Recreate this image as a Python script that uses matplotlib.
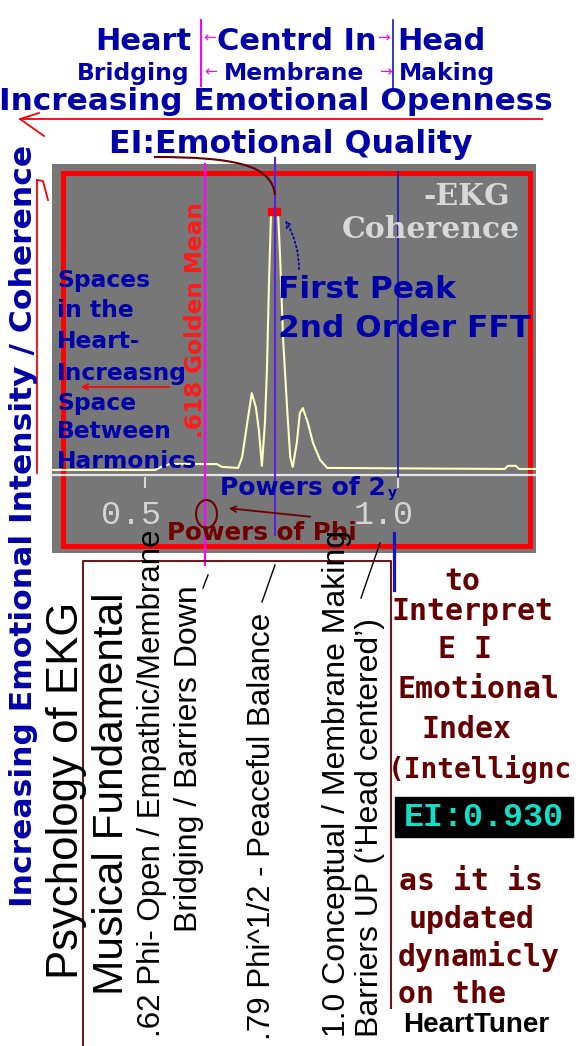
import matplotlib
matplotlib.use("Agg")
import matplotlib.pyplot as plt
from matplotlib.patches import Rectangle, Ellipse, PathPatch
from matplotlib.path import Path

# ---------------- data ----------------
spec_x = [0.318, 0.520, 0.530, 0.549, 0.642, 0.652, 0.684, 0.692, 0.702, 0.711,
          0.719, 0.725, 0.731, 0.737, 0.741, 0.745, 0.749, 0.763, 0.767, 0.773,
          0.781, 0.787, 0.792, 0.800, 0.806, 0.812, 0.822, 0.832, 0.846, 0.860,
          1.211, 1.217, 1.233, 1.239, 1.273]
spec_y = [0.000, 0.000, 0.010, 0.023, 0.023, 0.012, 0.008, 0.050, 0.182, 0.298,
          0.244, 0.155, 0.016, 0.182, 0.388, 0.725, 0.996, 0.996, 0.826, 0.504,
          0.233, 0.050, 0.012, 0.105, 0.221, 0.240, 0.182, 0.105, 0.039, 0.008,
          0.004, 0.016, 0.016, 0.004, 0.004]
tick_values = [0.5, 1.0]
tick_labels = ["0.5", "1.0"]
golden_mean = 0.618
phi_half = 0.757
unity = 1.0
peak_x = 0.755
peak_y = 1.0
ei_value = 0.930

spaces_lines = ["Spaces", "in the", "Heart-", "Increasng", "Space", "Between", "Harmonics"]
right_lines = ["to", "Interpret", "E I", "Emotional", "Index"]
right_lines2 = ["as it is", "updated", "dynamicly", "on the"]

# ---------------- styles ----------------
W, H = 576, 1046
BLUE = "#0000aa"
MAG = "#ff00ff"
DRED = "#660000"
RED = "#ff0000"
DV = "DejaVu Sans"
DVM = "DejaVu Sans Mono"
DVS = "DejaVu Serif"
LS = "Liberation Sans"
LM = "Liberation Mono"

fig = plt.figure(figsize=(W / 100, H / 100), dpi=100)
fig.patch.set_facecolor("white")


def rect(x0, y0, x1, y1):
    return [x0 / W, 1 - y1 / H, (x1 - x0) / W, (y1 - y0) / H]


# ---------------- main panel ----------------
ax = fig.add_axes(rect(52, 164, 536, 553), zorder=1)
ax.set_facecolor("#777777")
ax.set_xlim(0.3162, 1.2727)
ax.set_ylim(-0.3217, 1.186)
ax.set_xticks([])
ax.set_yticks([])
for s in ax.spines.values():
    s.set_visible(False)

ax.add_patch(Rectangle((0.0217, 0.018), 0.9649, 0.9601, transform=ax.transAxes,
                       fill=False, ec=RED, lw=3.6, zorder=2, clip_on=False))
ax.axhline(-0.0194, color="#e6e6e6", lw=1.6, zorder=3)
ax.plot(spec_x, spec_y, color="#ffffc0", lw=1.5, zorder=4)
ax.vlines(tick_values, -0.070, -0.027, color="#d8d8d8", lw=1.5, zorder=3)
for t, lab in zip(tick_values, tick_labels):
    ax.text(t - 0.028, -0.178, lab, fontsize=24, family=LM, color="#d4d4d4",
            ha="center", va="center", zorder=5)
ax.add_patch(Rectangle((peak_x - 0.012, peak_y - 0.012), 0.024, 0.028,
                       color=RED, zorder=6))

ax.axvline(golden_mean, ymin=-0.031, ymax=1.0, color=MAG, lw=1.5, clip_on=False, zorder=6)
ax.axvline(phi_half, ymin=0.046, ymax=1.015, color="#5c1ee0", lw=1.5, clip_on=False, zorder=6)
ax.axvline(unity, ymin=0.195, ymax=0.979, color="#1414c8", lw=1.2, clip_on=False, zorder=6)
ax.axvline(unity - 0.007, ymin=-0.095, ymax=0.051, color="#1414c8", lw=2.3, clip_on=False, zorder=6)

# ---------------- overlay (pixel coordinates) ----------------
ov = fig.add_axes([0, 0, 1, 1], zorder=5)
ov.set_xlim(0, W)
ov.set_ylim(H, 0)
ov.axis("off")


def txt(x, y, s, size, color, family, weight="normal", ha="left", va="baseline", rot=0):
    ov.text(x, y, s, fontsize=size, color=color, family=family, fontweight=weight,
            ha=ha, va=va, rotation=rot, rotation_mode="anchor")


# header
txt(95, 50, "Heart", 22, BLUE, DV, "bold")
txt(217, 50, "Centrd In", 22, BLUE, DV, "bold")
txt(397, 50, "Head", 22, BLUE, DV, "bold")
txt(77, 80, "Bridging", 16.8, BLUE, DV, "bold")
txt(224, 80, "Membrane", 16.8, BLUE, DV, "bold")
txt(399, 80, "Making", 16.8, BLUE, DV, "bold")
for (x, y, a) in [(210, 38, "\u2190"), (384, 38, "\u2192"), (211, 72, "\u2190"), (385, 72, "\u2192")]:
    txt(x, y, a, 11, MAG, DV, ha="center", va="center")
ov.plot([200.5, 200.5], [20, 86], color=MAG, lw=1.5)
ov.plot([393, 393], [20, 90], color="#1414c8", lw=1.2)
txt(276, 110, "Increasing Emotional Openness", 22.4, BLUE, DV, "bold", ha="center")
ov.plot([20, 542], [119, 119], color=RED, lw=1.3)
ov.plot([39, 20, 44], [113, 119, 136], color=RED, lw=1.3)
txt(291, 153, "EI:Emotional Quality", 22.8, BLUE, DV, "bold", ha="center")
curve = Path([(154, 157), (235, 157), (272, 165), (275, 195)],
             [Path.MOVETO, Path.CURVE4, Path.CURVE4, Path.CURVE4])
ov.add_patch(PathPatch(curve, fill=False, ec=DRED, lw=1.5))

# left vertical
ov.plot([37, 37], [473, 180], color=RED, lw=1.3)
ov.plot([37, 43, 48], [180, 181, 200], color=RED, lw=1.3)
txt(32, 907, "Increasing Emotional Intensity / Coherence", 22.6, BLUE, DV, "bold", rot=90)

# inside panel
for i, line in enumerate(spaces_lines):
    txt(57, [287, 317, 348, 380, 410, 438, 468][i], line, 16.8, BLUE, DV, "bold")
ov.annotate("", xy=(78, 387), xytext=(172, 387),
            arrowprops=dict(arrowstyle="->", color=RED, lw=1.2))
txt(202, 438, ".618 Golden Mean", 16.7, "#ff1a1a", DV, "bold", rot=90)
txt(278, 298, "First Peak", 22.5, BLUE, DV, "bold")
txt(278, 337, "2nd Order FFT", 22.5, BLUE, DV, "bold")
ov.annotate("", xy=(284, 218), xytext=(299, 272),
            arrowprops=dict(arrowstyle="->", color=BLUE, lw=1.2, linestyle=":",
                            connectionstyle="arc3,rad=0.15"))
txt(510, 205, "-EKG", 21.5, "#d8d8d8", DVS, "bold", ha="right")
txt(520, 238, "Coherence", 21.5, "#d8d8d8", DVS, "bold", ha="right")
txt(220, 495, "Powers of 2", 18, BLUE, DV, "bold")
txt(388, 497, "y", 10, BLUE, DV, "bold")
txt(167, 540, "Powers of Phi", 17.7, "#700000", DV, "bold")
ov.add_patch(Ellipse((206.5, 514), 21, 28, fill=False, ec="#700000", lw=1.5))
ov.annotate("", xy=(226, 508), xytext=(313, 517),
            arrowprops=dict(arrowstyle="->", color="#700000", lw=1.3))

# bottom box
ov.plot([83, 83, 391, 391], [1046, 561, 561, 1008], color="#6b1a1a", lw=1.5)
txt(78, 979, "Psychology of EKG", 31.5, "black", LS, rot=90)
txt(123, 995, "Musical Fundamental", 30.5, "black", LS, rot=90)
txt(160, 1037, ".62 Phi- Open / Empathic/Membrane", 22.5, "black", LS, rot=90)
txt(197, 932, "Bridging / Barriers Down", 23, "black", LS, rot=90)
txt(270, 1040, ".79 Phi^1/2 - Peaceful Balance", 22.5, "black", LS, rot=90)
txt(345, 1037, "1.0 Conceptual / Membrane Making", 23, "black", LS, rot=90)
txt(378, 1037, "Barriers UP (\u2018Head centered\u2019)", 23, "black", LS, rot=90)
ov.plot([203, 208], [588, 575], color="black", lw=1)
ov.plot([262, 275], [602, 565], color="black", lw=1)
ov.plot([361, 380], [598, 543], color="black", lw=1)

# right column
for s, (x, y) in zip(right_lines, [(462, 590), (472, 620), (465, 658), (478, 698), (467, 738)]):
    txt(x, y, s, 21.5, DRED, DVM, "bold", ha="center")
txt(388, 778, "(Intellignc", 20, DRED, DVM, "bold")
ov.add_patch(Rectangle((395, 797), 178, 40, color="black"))
txt(484, 818, f"EI:{ei_value:.3f}", 24, "#10e0c8", LM, "bold", ha="center", va="center")
for s, (x, y) in zip(right_lines2, [(471, 890), (472, 928), (479, 966), (452, 1003)]):
    txt(x, y, s, 21.5, DRED, DVM, "bold", ha="center")
txt(476, 1032, "HeartTuner", 20, "black", LS, "bold", ha="center")

fig.savefig("out.png", dpi=100)
